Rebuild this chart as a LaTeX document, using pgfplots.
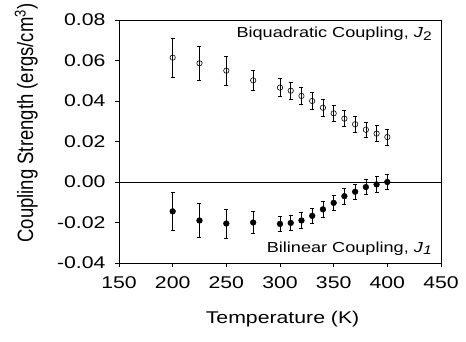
\documentclass[border=0pt]{standalone}
\usepackage{fontspec}
\setmainfont{Liberation Sans}[FakeStretch=1.25]
\newfontfamily\plainsans{Liberation Sans}
\usepackage{graphicx}
\usepackage{pgfplots}
\pgfplotsset{compat=1.18}
\newcommand{\sub}[1]{\raisebox{-0.35ex}{\fontsize{12.5}{13}\selectfont #1}}
\begin{document}
\begin{tikzpicture}
\path (-119pt,-78pt) rectangle (347pt,263pt);
\begin{axis}[
  scale only axis, width=322pt, height=243pt,
  xmin=150, xmax=450, ymin=-0.04, ymax=0.08,
  xtick={150,200,250,300,350,400,450},
  ytick={-0.04,-0.02,0,0.02,0.04,0.06,0.08},
  scaled y ticks=false,
  yticklabel style={xshift=-6pt, /pgf/number format/.cd, fixed, fixed zerofill, precision=2},
  /pgf/number format/assume math mode=true,
  tick align=outside, xtick pos=bottom, ytick pos=left, major tick length=4pt,
  tick style={black, line width=0.6pt},
  axis line style={line width=0.8pt},
  ticklabel style={font=\fontsize{17}{18}\selectfont},
  xticklabel style={yshift=-6pt},
  xlabel={Temperature (K)},
  ylabel={\scalebox{1}[1.2]{Coupling Strength (ergs/cm\textsuperscript{3})}},
  every axis x label/.style={at={(axis description cs:0.508,-0.247)},anchor=base,font=\fontsize{17}{20}\selectfont},
  every axis y label/.style={at={(axis description cs:-0.267,0.576)},anchor=base,rotate=90,font=\plainsans\fontsize{18.5}{20}\selectfont},
  clip=false,
]
\addplot[black, line width=0.6pt, forget plot] coordinates {(150,0) (450,0)};

\addplot[black, only marks, mark=o, mark size=2.7pt,
  mark options={fill=white, line width=0.6pt},
  error bars/.cd, y dir=both, y explicit,
  error bar style={line width=0.6pt},
  error mark options={rotate=90, mark size=2pt, line width=0.6pt}]
coordinates {
 (200,0.0614) +- (0,0.0095)
 (225,0.0586) +- (0,0.0083)
 (250,0.0550) +- (0,0.0073)
 (275,0.0502) +- (0,0.0051)
 (300,0.0466) +- (0,0.0044)
 (310,0.0451) +- (0,0.0043)
 (320,0.0425) +- (0,0.0042)
 (330,0.0400) +- (0,0.0042)
 (340,0.0367) +- (0,0.0041)
 (350,0.0339) +- (0,0.0040)
 (360,0.0313) +- (0,0.0040)
 (370,0.0285) +- (0,0.0040)
 (380,0.0258) +- (0,0.0039)
 (390,0.0239) +- (0,0.0039)
 (400,0.0222) +- (0,0.0039)
};

\addplot[black, only marks, mark=*, mark size=2.9pt,
  mark options={fill=black},
  error bars/.cd, y dir=both, y explicit,
  error bar style={line width=0.6pt},
  error mark options={rotate=90, mark size=2pt, line width=0.6pt}]
coordinates {
 (200,-0.0145) +- (0,0.0095)
 (225,-0.0190) +- (0,0.0084)
 (250,-0.0205) +- (0,0.0072)
 (275,-0.0200) +- (0,0.0054)
 (300,-0.0207) +- (0,0.0038)
 (310,-0.0202) +- (0,0.0038)
 (320,-0.0190) +- (0,0.0038)
 (330,-0.0167) +- (0,0.0038)
 (340,-0.0135) +- (0,0.0038)
 (350,-0.0103) +- (0,0.0038)
 (360,-0.0070) +- (0,0.0038)
 (370,-0.0048) +- (0,0.0038)
 (380,-0.0025) +- (0,0.0038)
 (390,-0.0012) +- (0,0.0038)
 (400,0.0000) +- (0,0.0038)
};

\node[anchor=base east, font=\fontsize{14.5}{17}\selectfont, inner sep=0pt] at (rel axis cs:0.972,0.927) {Biquadratic Coupling, \textit{J}\sub{2}};
\node[anchor=base east, font=\fontsize{14.5}{17}\selectfont, inner sep=0pt] at (rel axis cs:0.972,0.044) {Bilinear Coupling, \textit{J}\sub{\textit{1}}};
\end{axis}
\end{tikzpicture}
\end{document}
